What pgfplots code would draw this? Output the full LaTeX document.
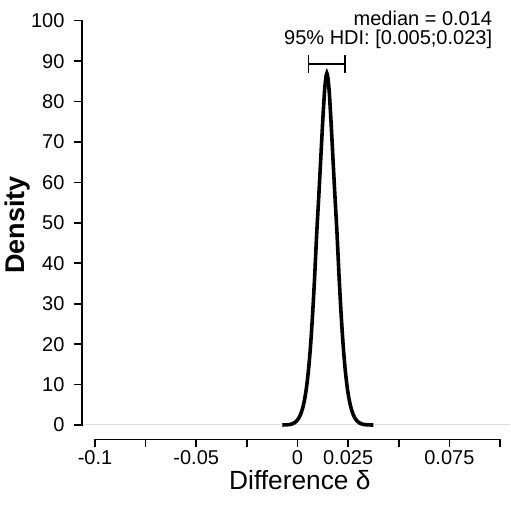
\documentclass[border=0pt]{standalone}
\usepackage{fontspec}
\setmainfont{Liberation Sans}
\usepackage{pgfplots}
\pgfplotsset{compat=1.18}
\begin{document}
\begin{tikzpicture}[x=1pt,y=1pt]
\useasboundingbox (0,0) rectangle (511,504);
\begin{axis}[
    at={(82pt,64.7pt)}, anchor=south west,
    scale only axis, width=428pt, height=418.6pt,
    xmin=-0.10642, xmax=0.10494,
    ymin=-3.54, ymax=100,
    clip=false,
    axis x line*=bottom, axis y line*=left,
    axis line style={draw=none},
    tick align=outside,
    major tick length=8pt,
    tick style={black, line width=1.6pt},
    xtick={-0.1,-0.075,-0.05,-0.025,0,0.025,0.05,0.075,0.1},
    xticklabels={-0.1,,-0.05,,0,0.025,,0.075,},
    scaled x ticks=false,
    ytick={0,10,20,30,40,50,60,70,80,90,100},
    ticklabel style={font=\fontsize{20}{24}\selectfont},
    yticklabel style={xshift=-6pt},
    /pgf/number format/assume math mode=true,
    xlabel={Difference δ},
    xlabel style={at={(axis description cs:0.509,-0.121)}, anchor=base,
        font=\fontsize{26.3}{30}\selectfont},
    ylabel={Density},
    ylabel style={at={(axis description cs:-0.1332,0.512)}, anchor=base,
        font=\fontsize{27}{30}\selectfont\bfseries},
]
% light reference line at density 0
\addplot[black!12, line width=1pt] coordinates {(-0.10642,0) (0.10494,0)};

% axis lines (JASP style, detached)
\draw[line width=1.6pt, line cap=rect] (axis cs:-0.10642,0) -- (axis cs:-0.10642,100);
\draw[line width=1.6pt, line cap=rect] (axis cs:-0.1,-3.54) -- (axis cs:0.1,-3.54);

% posterior density
\addplot[black, line width=3.6pt, smooth, tension=0.5] coordinates {
    (-0.0075,0) (-0.0065,0.02) (-0.0055,0.04) (-0.0045,0.08) (-0.0035,0.15)
    (-0.0025,0.3) (-0.0015,0.55) (-0.0005,0.95) (0.0005,1.6) (0.0015,2.6)
    (0.0025,4.1) (0.0035,6.3) (0.0045,9.5) (0.0055,14) (0.0065,20)
    (0.0075,27.8) (0.0085,37) (0.0095,47.5) (0.0105,56.5) (0.0115,66)
    (0.0125,75.5) (0.0135,83.5) (0.0145,87) (0.0155,83.5) (0.0165,75.5)
    (0.0175,66) (0.0185,56.5) (0.0195,47.5) (0.0205,37) (0.0215,27.8)
    (0.0225,20) (0.0235,14) (0.0245,9.5) (0.0255,6.3) (0.0265,4.1)
    (0.0275,2.6) (0.0285,1.6) (0.0295,0.95) (0.0305,0.55) (0.0315,0.3)
    (0.0325,0.15) (0.0335,0.08) (0.0345,0.04) (0.0355,0.02) (0.0365,0)
    (0.0375,0)
};

% 95% HDI
\addplot[black, line width=1.6pt] coordinates {(0.0055,89.3) (0.0235,89.3)};
\addplot[black, line width=1.6pt] coordinates {(0.0055,87.1) (0.0055,91.5)};
\addplot[black, line width=1.6pt] coordinates {(0.0235,87.1) (0.0235,91.5)};

\node[anchor=base east, font=\fontsize{20}{24}\selectfont, inner sep=0pt]
    at (axis cs:0.0962,98.7) {median = 0.014};
\node[anchor=base east, font=\fontsize{20}{24}\selectfont, inner sep=0pt]
    at (axis cs:0.0962,94.0) {95\% HDI: [0.005;0.023]};
\end{axis}
\end{tikzpicture}
\end{document}
